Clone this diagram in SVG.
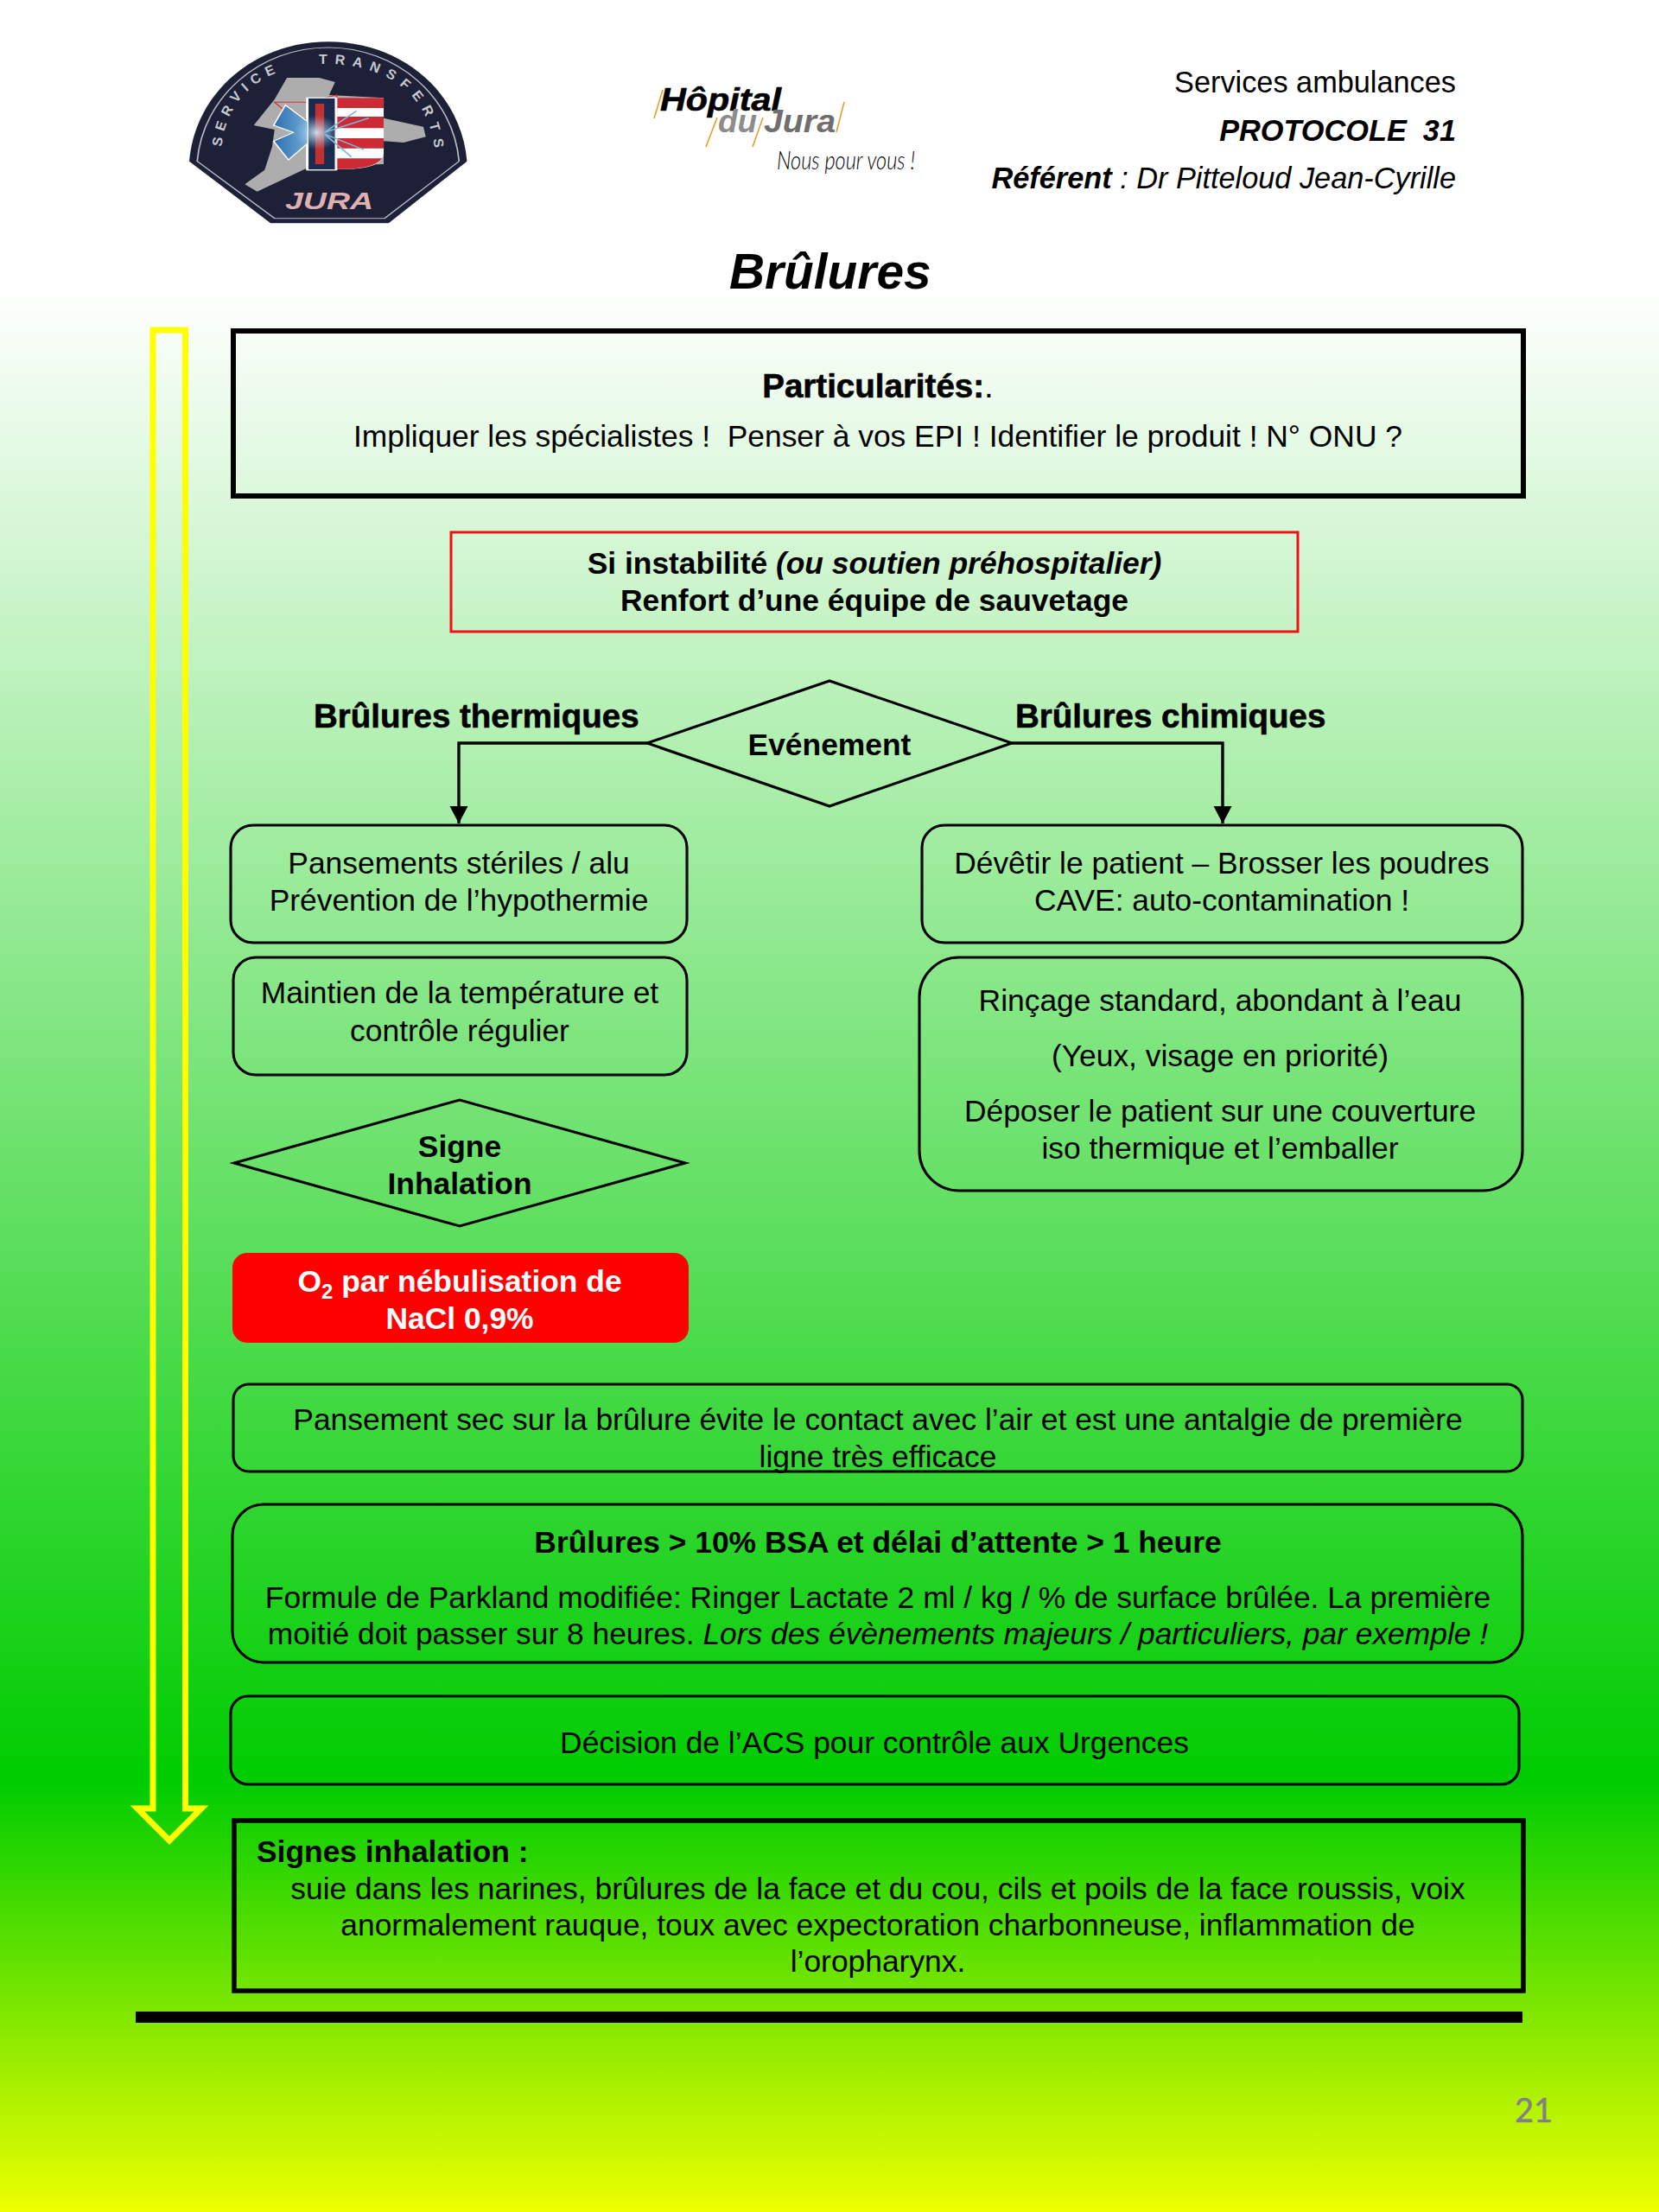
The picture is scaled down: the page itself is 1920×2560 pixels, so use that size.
<svg xmlns="http://www.w3.org/2000/svg" width="1920" height="2560" viewBox="0 0 1920 2560">
<style>
text{font-family:"Liberation Sans",Arial,sans-serif;font-size:35.4px;fill:#000;white-space:pre}
.c{text-anchor:middle}.b{font-weight:bold}.i{font-style:italic}
.r{text-anchor:end;font-size:34.3px}
.h{stroke:#000;stroke-width:.6px}
.lg{font-size:38.5px}
.box{fill:none;stroke:#000;stroke-width:3.1}
.thick{fill:none;stroke:#000;stroke-width:6}
.conn{fill:none;stroke:#000;stroke-width:3.4}
.slash{stroke:#e0a030;stroke-width:1.6}
.ring{font-size:16px;font-weight:bold;fill:#c8c8d0}
</style>
<defs>
<linearGradient id="bg" x1="0" y1="0" x2="0" y2="1">
<stop offset="0.13" stop-color="#fff"/>
<stop offset="0.805" stop-color="#00cc00"/>
<stop offset="1" stop-color="#eeff00"/>
</linearGradient>
<linearGradient id="star" x1="0" y1="0" x2="1" y2="0">
<stop offset="0" stop-color="#2a70b0"/><stop offset="1" stop-color="#b0d8f0"/>
</linearGradient>
<radialGradient id="glow">
<stop offset="0" stop-color="#d8eefa" stop-opacity=".9"/><stop offset="1" stop-color="#8cc4e8" stop-opacity="0"/>
</radialGradient>
<marker id="ah" markerUnits="userSpaceOnUse" markerWidth="22" markerHeight="22" refX="20" refY="10.5" orient="auto">
<path d="M0,0 L20,10.5 L0,21 Z" fill="#000"/>
</marker>
<path id="ringL" d="M253 200 L256 176 C260 105 315 74 378 74 C440 74 498 105 503 176 L507 205"/>
</defs>
<rect id="background" width="1920" height="2560" fill="url(#bg)"/>

<g id="logo-jura">
<g transform="translate(180,30) scale(0.574,0.3333)">
<path d="M68 470 C80 230 200 55 348 55 C496 55 616 230 628 470 L470 685 L232 685 Z" fill="#1e2038"/>
<path d="M84 470 C96 245 210 75 348 75 C486 75 600 245 612 470 L462 668 L240 668 Z" fill="none" stroke="#b8bac4" stroke-width="3"/>
<path d="M265 180 L330 180 L362 195 L350 240 L460 250 L460 320 L540 350 L545 385 L500 405 L460 400 L460 480 L310 490 L205 575 L180 550 L220 500 L235 420 L240 360 L198 345 L240 255 Z" fill="#adadad"/>
<path d="M365 250 H460 V440 Q460 497 380 497 H365 Z" fill="#fff"/>
<path d="M365 250 H460 V285 H365 Z M365 315 H460 V355 H365 Z M365 390 H460 V425 H365 Z M365 460 H457 Q440 497 380 497 H365 Z" fill="#cc2b35"/>
<path d="M305 265 L365 240 L365 300 L285 330 L240 265 Z" fill="none" stroke="#d03030" stroke-width="3"/>
<path d="M262 275 L305 330 L305 250 L365 250 L365 500 L305 500 L305 410 L268 465 L238 400 L278 370 L238 345 Z" fill="url(#star)" stroke="#fff" stroke-width="3"/>
<rect x="307" y="250" width="56" height="250" fill="#1c2a50" stroke="#fff" stroke-width="3"/>
<path d="M322 270 H340 V480 H322 Z" fill="#c23030"/>
<ellipse cx="325" cy="370" rx="45" ry="60" fill="url(#glow)"/>
<path d="M340 370 L405 295 M340 370 L430 320 M340 375 L420 430 M340 375 L395 455" stroke="#7fb8e0" stroke-width="4"/>
</g>
<text class="ring" style="letter-spacing:7px"><textPath href="#ringL" startOffset="30">SERVICE</textPath></text>
<text class="ring" style="letter-spacing:8.5px"><textPath href="#ringL" startOffset="193">TRANSFERTS</textPath></text>
<text x="381" y="242" class="c b i" style="font-size:28px;fill:#deb0b2" textLength="102" lengthAdjust="spacingAndGlyphs">JURA</text>
</g>

<g id="logo-hopital">
<path class="slash" d="M767 104 L757 137 M830 136 L817 170 M883 136 L871 170 M977 118 L968 153"/>
<text x="764" y="128" class="b i h" style="font-size:36px" textLength="140" lengthAdjust="spacingAndGlyphs">Hôpital</text>
<text x="831" y="153" class="b i" style="font-size:36px;fill:#8c8c8c" textLength="45" lengthAdjust="spacingAndGlyphs">du</text>
<text x="884" y="153" class="b i" style="font-size:36px;fill:#6e6e6e" textLength="83" lengthAdjust="spacingAndGlyphs">Jura</text>
<text x="899" y="196" class="i" style="font-family:Lato,'Liberation Sans',sans-serif;font-weight:300;font-size:29px" textLength="160" lengthAdjust="spacingAndGlyphs">Nous pour vous !</text>
</g>

<g id="header-text">
<text x="1685" y="107" class="r">Services ambulances</text>
<text x="1685" y="163" class="r b i">PROTOCOLE  31</text>
<text x="1685" y="218" class="r i"><tspan class="b">Référent</tspan> : Dr Pitteloud Jean-Cyrille</text>
</g>

<text id="title" x="844" y="334" class="b i" style="font-size:56.8px">Brûlures</text>

<g id="progress-arrow">
<path d="M177 382 H214.5 V2093 H233 L196 2130 L159 2093 H177 Z" fill="none" stroke="#ffff00" stroke-width="7"/>
</g>

<g id="connectors">
<path class="conn" d="M749 860 H531 V953" marker-end="url(#ah)"/>
<path class="conn" d="M1171 860 H1415 V953" marker-end="url(#ah)"/>
</g>

<g id="particularites">
<rect class="thick" x="270" y="383" width="1493" height="191"/>
<text x="1016" y="460" class="c b h lg">Particularités:<tspan style="font-weight:normal;stroke:none">.</tspan></text>
<text x="1016" y="517" class="c">Impliquer les spécialistes !  Penser à vos EPI ! Identifier le produit ! N° ONU ?</text>
</g>

<g id="instabilite">
<rect x="522" y="616" width="980" height="115" fill="none" stroke="#f01015" stroke-width="3"/>
<text x="1012" y="664" class="c b">Si instabilité <tspan class="i">(ou soutien préhospitalier)</tspan></text>
<text x="1012" y="707" class="c b">Renfort d’une équipe de sauvetage</text>
</g>

<text id="label-thermiques" x="363" y="842" class="b h lg">Brûlures thermiques</text>
<text id="label-chimiques" x="1175" y="842" class="b h lg">Brûlures chimiques</text>

<g id="evenement">
<polygon class="box" points="749,860 960,788 1171,860 960,933"/>
<text x="960" y="874" class="c b">Evénement</text>
</g>

<g id="pansements">
<rect class="box" x="267" y="955" width="528" height="136" rx="26"/>
<text x="531" y="1011" class="c">Pansements stériles / alu</text>
<text x="531" y="1054" class="c">Prévention de l’hypothermie</text>
</g>
<g id="maintien">
<rect class="box" x="270" y="1108" width="525" height="136" rx="26"/>
<text x="532" y="1161" class="c">Maintien de la température et</text>
<text x="532" y="1205" class="c">contrôle régulier</text>
</g>
<g id="signe-inhalation">
<polygon class="box" points="271,1346 532,1273 793,1346 532,1419"/>
<text x="532" y="1339" class="c b">Signe</text>
<text x="532" y="1382" class="c b">Inhalation</text>
</g>
<g id="o2">
<rect x="269" y="1450" width="528" height="104" rx="17" fill="#ff0000"/>
<text x="532" y="1495" class="c b" style="fill:#fff">O<tspan dy="8" style="font-size:24px">2</tspan><tspan dy="-8"> par nébulisation de</tspan></text>
<text x="532" y="1538" class="c b" style="fill:#fff">NaCl 0,9%</text>
</g>
<g id="devetir">
<rect class="box" x="1067" y="955" width="695" height="136" rx="26"/>
<text x="1414" y="1011" class="c">Dévêtir le patient – Brosser les poudres</text>
<text x="1414" y="1054" class="c">CAVE: auto-contamination !</text>
</g>
<g id="rincage">
<rect class="box" x="1064" y="1108" width="698" height="270" rx="46"/>
<text x="1412" y="1170" class="c">Rinçage standard, abondant à l’eau</text>
<text x="1412" y="1234" class="c">(Yeux, visage en priorité)</text>
<text x="1412" y="1298" class="c">Déposer le patient sur une couverture</text>
<text x="1412" y="1341" class="c">iso thermique et l’emballer</text>
</g>
<g id="pansement-sec">
<rect class="box" x="270" y="1602" width="1492" height="101" rx="18"/>
<text x="1016" y="1655" class="c">Pansement sec sur la brûlure évite le contact avec l’air et est une antalgie de première</text>
<text x="1016" y="1698" class="c">ligne très efficace</text>
</g>
<g id="parkland">
<rect class="box" x="269" y="1741" width="1493" height="183" rx="36"/>
<text x="1016" y="1797" class="c b">Brûlures &gt; 10% BSA et délai d’attente &gt; 1 heure</text>
<text x="1016" y="1861" class="c">Formule de Parkland modifiée: Ringer Lactate 2 ml / kg / % de surface brûlée. La première</text>
<text x="1016" y="1903" class="c">moitié doit passer sur 8 heures. <tspan class="i">Lors des évènements majeurs / particuliers, par exemple !</tspan></text>
</g>
<g id="decision">
<rect class="box" x="267" y="1963" width="1491" height="102" rx="20"/>
<text x="1012" y="2029" class="c">Décision de l’ACS pour contrôle aux Urgences</text>
</g>
<g id="signes-inhalation">
<rect x="271" y="2107" width="1492" height="197" fill="none" stroke="#000" stroke-width="5.5"/>
<text x="297" y="2155" class="b">Signes inhalation :</text>
<text x="1016" y="2198" class="c">suie dans les narines, brûlures de la face et du cou, cils et poils de la face roussis, voix</text>
<text x="1016" y="2240" class="c">anormalement rauque, toux avec expectoration charbonneuse, inflammation de</text>
<text x="1016" y="2282" class="c">l’oropharynx.</text>
</g>
<rect id="rule" x="157" y="2328" width="1605" height="13" fill="#000"/>
<text id="page-number" x="1797" y="2456" style="font-family:Lato,'Open Sans',sans-serif;font-size:38px;text-anchor:end;fill:#808088;stroke:#808088;stroke-width:.5px">21</text>
</svg>
